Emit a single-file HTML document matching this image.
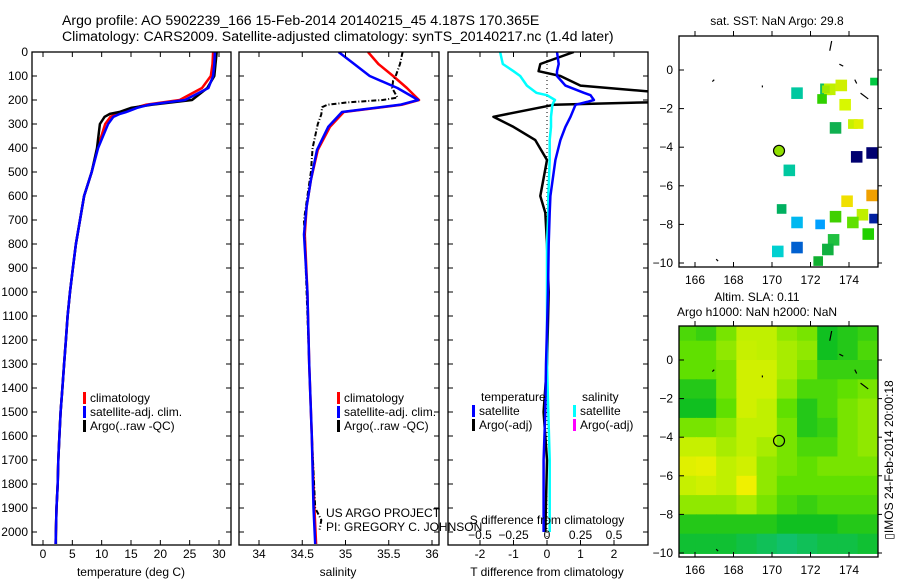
<!DOCTYPE html>
<html><head><meta charset="utf-8">
<style>
html,body{margin:0;padding:0;background:#fff;}
svg{display:block;font-family:"Liberation Sans",sans-serif;}
text{fill:#000;}
</style></head>
<body>
<svg id="fig" width="900" height="580" viewBox="0 0 900 580">
<text x="62" y="25" font-size="14.1" text-anchor="start">Argo profile: AO 5902239_166 15-Feb-2014 20140215_45 4.187S 170.365E</text>
<text x="62" y="41" font-size="14.1" text-anchor="start">Climatology: CARS2009. Satellite-adjusted climatology: synTS_20140217.nc (1.4d later)</text>
<text x="777" y="25" font-size="12" text-anchor="middle">sat. SST: NaN Argo: 29.8</text>
<text x="757" y="301" font-size="12" text-anchor="middle">Altim. SLA: 0.11</text>
<text x="757" y="316" font-size="12" text-anchor="middle">Argo h1000: NaN h2000: NaN</text>
<text transform="translate(893,460) rotate(-90)" font-size="12" text-anchor="middle">▯IMOS 24-Feb-2014 20:00:18</text>
<text x="326" y="517" font-size="12">US ARGO PROJECT</text>
<text x="326" y="531" font-size="12">PI: GREGORY C. JOHNSON</text>
</svg>
<script>
// ---------- data ----------
const depths      = [0,50,100,150,200,220,233,250,258,270,300,400,500,600,700,800,900,1000,1100,1200,1300,1400,1500,1600,1700,1800,1900,2000,2050];
const tempClim    = [29.0,28.9,28.6,27.1,23.3,17.5,15.5,13.6,12.6,11.5,10.6,9.3,8.3,7.0,6.3,5.6,5.1,4.6,4.2,3.9,3.6,3.3,3.0,2.8,2.6,2.5,2.3,2.2,2.15];
const tempSat     = [29.3,29.2,29.0,28.2,24.2,18.0,16.0,14.2,13.1,12.0,11.1,9.4,8.3,7.0,6.3,5.6,5.1,4.6,4.2,3.9,3.6,3.3,3.0,2.8,2.6,2.5,2.3,2.2,2.15];
const tempArgo    = [29.6,29.4,29.2,28.0,25.4,18.5,15.0,13.0,11.4,10.5,9.7,9.2,8.3,7.0,6.3,5.6,5.1,4.6,4.2,3.9,3.6,3.3,3.0,2.8,2.6,2.5,2.3,2.2,2.2];
const salDepths   = [0,50,100,150,200,220,250,312,408,533,645,760,1000,1300,1600,1900,2050];
const salClim     = [35.26,35.38,35.55,35.71,35.85,35.65,34.98,34.82,34.68,34.60,34.55,34.53,34.56,34.58,34.61,34.64,34.66];
const salSat      = [34.92,35.10,35.28,35.60,35.84,35.63,34.96,34.80,34.67,34.60,34.55,34.52,34.56,34.58,34.61,34.63,34.65];
const argoSalDepths=[0,50,100,120,150,170,190,200,210,220,230,260,300,400,500,700,1000,1300,1600,1900,1950,1990];
const salArgo     = [35.66,35.63,35.58,35.55,35.54,35.57,35.60,35.43,35.02,34.79,34.73,34.72,34.68,34.62,34.60,34.52,34.55,34.58,34.61,34.65,34.72,34.70];
const diffDepths  = [0,50,80,100,140,170,180,200,208,220,270,312,367,450,600,670,800,1000,1300,1500,1700,2000];
const tDiffArgo   = [0.8,-0.2,-0.25,0.4,1.0,3.5,3.5,3.5,3.5,0.2,-1.6,-1.0,-0.35,0.0,-0.2,-0.05,0.0,0.05,0.0,-0.1,0.0,-0.05];
const tDiffSat    = [0.3,0.35,0.3,0.3,0.55,1.1,1.3,1.4,1.2,0.85,0.7,0.55,0.4,0.25,0.1,0.08,0.05,0.03,-0.03,-0.05,-0.1,-0.1];
const sDiffSat    = [-0.35,-0.33,-0.25,-0.2,-0.15,-0.08,0.0,0.06,0.05,0.04,0.03,0.03,0.02,0.02,0.01,0.01,0.0,0.0,0.0,0.01,0.02,0.02];
const depthTicks  = [0,100,200,300,400,500,600,700,800,900,1000,1100,1200,1300,1400,1500,1600,1700,1800,1900,2000];
const tempTicks   = [0,5,10,15,20,25,30];
const salTicks    = [34,34.5,35,35.5,36];
const tdTicks     = [-2,-1,0,1,2];
const sdTicks     = [-0.5,-0.25,0,0.25,0.5];
const lonTicks    = [166,168,170,172,174];
const latTicks    = [0,-2,-4,-6,-8,-10];
// SST observation boxes: lon, lat, size(deg), colour
const sstLon  = [171.3,172.8,173.0,173.6,173.8,172.6,172.8,173.3,174.2,174.5,175.3,174.4,175.2,173.3,170.9,175.2,173.9,174.7,170.5,171.3,172.5,174.2,175.3,175.0,170.3,171.3,173.2,172.9,172.4];
const sstLat  = [-1.2,-1.0,-1.0,-0.8,-1.8,-1.5,-1.0,-3.0,-2.8,-2.8,-0.6,-4.5,-4.3,-7.6,-5.2,-6.5,-6.8,-7.5,-7.2,-7.9,-8.0,-7.9,-7.7,-8.5,-9.4,-9.2,-8.8,-9.3,-9.9];
const sstSize = [0.6,0.6,0.6,0.6,0.6,0.5,0.4,0.6,0.5,0.5,0.4,0.6,0.6,0.6,0.6,0.6,0.6,0.6,0.5,0.6,0.5,0.6,0.5,0.6,0.6,0.6,0.6,0.6,0.5];
const sstCol  = ['#00c8a0','#10c060','#c0f000','#d0f000','#d8f800','#30d000','#a0e800','#10b050','#c8f000','#e0f000','#00c840','#000070','#000070','#40d000','#00c8a0','#f0a000','#f0e000','#c0f000','#00b060','#00b8f0','#00a0ff','#60e000','#0020a0','#20d000','#00d0d0','#0060d0','#20c040','#10b040','#10b030'];
// SLA grid rows lat 1.5 .. -9.5, columns lon 165.5 .. 175.0
const slaRows = [
 [0.45,0.40,0.55,0.70,0.70,0.60,0.55,0.30,0.35,0.40],
 [0.50,0.50,0.60,0.72,0.70,0.65,0.60,0.30,0.35,0.45],
 [0.50,0.50,0.55,0.75,0.75,0.65,0.55,0.40,0.40,0.40],
 [0.35,0.35,0.55,0.75,0.75,0.60,0.45,0.45,0.50,0.55],
 [0.30,0.30,0.50,0.75,0.70,0.50,0.35,0.45,0.55,0.60],
 [0.55,0.55,0.60,0.70,0.70,0.55,0.35,0.40,0.55,0.60],
 [0.72,0.72,0.65,0.70,0.65,0.55,0.45,0.45,0.55,0.60],
 [0.80,0.82,0.70,0.75,0.60,0.55,0.50,0.55,0.55,0.55],
 [0.72,0.75,0.70,0.85,0.60,0.50,0.50,0.50,0.50,0.50],
 [0.60,0.60,0.60,0.65,0.55,0.45,0.40,0.45,0.45,0.45],
 [0.35,0.35,0.35,0.35,0.35,0.30,0.30,0.30,0.35,0.35],
 [0.25,0.25,0.25,0.20,0.15,0.10,0.15,0.20,0.20,0.25]];
const floatLon = 170.365, floatLat = -4.187;

// ---------- helpers ----------
const svg=document.getElementById('fig');const NS='http://www.w3.org/2000/svg';
function mk(tag,attrs,parent){const e=document.createElementNS(NS,tag);for(const k in attrs)e.setAttribute(k,attrs[k]);(parent||svg).appendChild(e);return e;}
function lin(d0,d1,r0,r1){return v=>r0+(v-d0)*(r1-r0)/(d1-d0);}
const Y=lin(0,2000,52,532);
function txt(x,y,s,anchor,size,parent){const t=mk('text',{x:x,y:y,'font-size':size||12,'text-anchor':anchor||'middle'},parent);t.textContent=s;return t;}

function panel(name,x0,x1,y0,y1){
  const g=mk('g',{});
  
  
  const id='clip-'+name;const cp=mk('clipPath',{id:id},g);mk('rect',{x:x0,y:y0,width:x1-x0,height:y1-y0},cp);
  const inner=mk('g',{'clip-path':'url(#'+id+')'},g);
  return {g:g,inner:inner,x0:x0,x1:x1,y0:y0,y1:y1};
}
function frame(p){const r=mk('rect',{x:p.x0,y:p.y0,width:p.x1-p.x0,height:p.y1-p.y0,fill:'none',stroke:'#000','stroke-width':1.3},p.g);}
function line(p,xs,ds,X,color,w,name,dash){
  const pts=xs.map((v,i)=>X(v).toFixed(1)+','+Y(ds[i]).toFixed(1)).join(' ');
  const a={points:pts,fill:'none',stroke:color,'stroke-width':w,'stroke-linejoin':'round'};if(dash)a['stroke-dasharray']=dash;
  const e=mk('polyline',a,p.inner);
  
  
}
function depthAxis(p,labels){
  depthTicks.forEach(d=>{const y=Y(d);
    mk('line',{x1:p.x0,x2:p.x0+5,y1:y,y2:y,stroke:'#000'},p.g);
    mk('line',{x1:p.x1,x2:p.x1-5,y1:y,y2:y,stroke:'#000'},p.g);
    if(labels){const t=txt(p.x0-4,y+4,String(d),'end',12,p.g);}
  });
}
function xAxis(p,ticks,X,ly,fmt){
  ticks.forEach(v=>{const x=X(v);
    mk('line',{x1:x,x2:x,y1:p.y1,y2:p.y1-5,stroke:'#000'},p.g);
    mk('line',{x1:x,x2:x,y1:p.y0,y2:p.y0+5,stroke:'#000'},p.g);
    const t=txt(x,ly,fmt?fmt(v):String(v),'middle',12,p.g);});
}
function legend(p,x,y,items){
  items.forEach((it,i)=>{
    const r=mk('rect',{x:x,y:y+i*14-10,width:3,height:12,fill:it[1]},p.g);
    
    
    const t=txt(x+7,y+i*14,it[0],'start',12,p.g);
    
    
  });
}

// ---------- panel 1: temperature ----------
const p1=panel('temperature-panel',32,231,52,545);
const XT=lin(0,30,43,219);
line(p1,tempClim,depths,XT,'#f00',2.5,'temp-climatology-line');
line(p1,tempArgo,depths,XT,'#000',2.5,'temp-argo-line');
line(p1,tempSat,depths,XT,'#00f',2.5,'temp-satellite-line');
frame(p1);depthAxis(p1,true);xAxis(p1,tempTicks,XT,558);
txt(131,576,'temperature (deg C)','middle',12,p1.g);
legend(p1,83,402,[['climatology','#f00'],['satellite-adj. clim.','#00f'],['Argo(..raw -QC)','#000']]);

// ---------- panel 2: salinity ----------
const p2=panel('salinity-panel',239,439,52,545);
const XS=lin(34,36,259,432);
line(p2,salClim,salDepths,XS,'#f00',2.5,'sal-climatology-line');
line(p2,salArgo,argoSalDepths,XS,'#000',2,'sal-argo-line','5 2 1 2');
line(p2,salSat,salDepths,XS,'#00f',2.5,'sal-satellite-line');
frame(p2);depthAxis(p2,false);xAxis(p2,salTicks,XS,558);
txt(338,576,'salinity','middle',12,p2.g);
legend(p2,337,402,[['climatology','#f00'],['satellite-adj. clim.','#00f'],['Argo(..raw -QC)','#000']]);

// ---------- panel 3: differences ----------
const p3=panel('difference-panel',448,648,52,545);
const XTD=lin(-2,2,480,614);
const XSD=lin(-0.5,0.5,480,614);
mk('line',{x1:XTD(0),x2:XTD(0),y1:52,y2:545,stroke:'#000','stroke-width':1,'stroke-dasharray':'1 3'},p3.inner);
line(p3,tDiffArgo,diffDepths,XTD,'#000',2.5,'tdiff-argo-line');
line(p3,sDiffSat,diffDepths,XSD,'#0ff',2.5,'sdiff-satellite-line');
line(p3,tDiffSat,diffDepths,XTD,'#00f',2.5,'tdiff-satellite-line');
frame(p3);depthAxis(p3,false);xAxis(p3,tdTicks,XTD,558);
sdTicks.forEach(v=>{const t=txt(XSD(v),539,String(v).replace('-','\u2212'),'middle',12,p3.g);});
txt(547,524,'S difference from climatology','middle',12,p3.g);
txt(547,576,'T difference from climatology','middle',12,p3.g);
txt(481,401,'temperature','start',12,p3.g);
txt(582,401,'salinity','start',12,p3.g);
legend(p3,472,415,[['satellite','#00f'],['Argo(-adj)','#000']]);
legend(p3,573,415,[['satellite','#0ff'],['Argo(-adj)','#f0f']]);

// ---------- maps ----------
const LX=lin(166,174,695,849);
function mapPanel(name,top){
  const LY=lin(0,-10,top+34,top+227);
  const p=panel(name,679,878,top,top+231);
  return {p:p,LY:LY};
}
function mapAxes(m){
  const p=m.p;frame(p);
  lonTicks.forEach(v=>{const x=LX(v);mk('line',{x1:x,x2:x,y1:p.y1,y2:p.y1-5,stroke:'#000'},p.g);mk('line',{x1:x,x2:x,y1:p.y0,y2:p.y0-5,stroke:'#000'},p.g);
    const t=txt(x,p.y1+17,String(v),'middle',12,p.g);});
  latTicks.forEach(v=>{const y=m.LY(v);mk('line',{x1:p.x0,x2:p.x0+5,y1:y,y2:y,stroke:'#000'},p.g);mk('line',{x1:p.x1,x2:p.x1+4,y1:y,y2:y,stroke:'#000'},p.g);
    const t=txt(p.x0-6,y+4,String(v).replace('-','\u2212'),'end',12,p.g);});
}
function coast(m){
  [[173.1,1.5,173.0,1.0],[173.5,0.3,173.7,0.2],[174.3,-0.5,174.4,-0.7],[174.6,-1.2,175.0,-1.5],[167.0,-0.5,166.9,-0.6],[169.5,-0.8,169.5,-0.9],[167.1,-9.8,167.2,-9.9]].forEach(c=>{
    mk('line',{x1:LX(c[0]),y1:m.LY(c[1]),x2:LX(c[2]),y2:m.LY(c[3]),stroke:'#000','stroke-width':1.2},m.p.inner);});
}
const m1=mapPanel('sst-map',36);
sstLon.forEach((lon,i)=>{const s=sstSize[i];
  const r=mk('rect',{x:LX(lon-s/2),y:m1.LY(sstLat[i]+s/2),width:LX(s)-LX(0),height:m1.LY(-s)-m1.LY(0),fill:sstCol[i]},m1.p.inner);
  
  
});
coast(m1);
const f1=mk('circle',{cx:LX(floatLon),cy:m1.LY(floatLat),r:5.5,fill:'#90e000',stroke:'#000','stroke-width':1.2},m1.p.inner);


mapAxes(m1);

function slaColor(v){
  const stops=[[0,[16,192,144]],[0.3,[16,192,32]],[0.5,[96,224,0]],[0.7,[192,240,0]],[0.85,[240,240,0]],[1,[240,200,0]]];
  for(let i=1;i<stops.length;i++){if(v<=stops[i][0]){const a=stops[i-1],b=stops[i],t=(v-a[0])/(b[0]-a[0]);
    return 'rgb('+a[1].map((c,k)=>Math.round(c+(b[1][k]-c)*t)).join(',')+')';}}
  return 'rgb(240,200,0)';
}
const m2=mapPanel('sla-map',326);
slaRows.forEach((row,ri)=>row.forEach((v,ci)=>{
  const lon0=165+ci*1.05,lat0=2-ri;
  const r=mk('rect',{x:LX(lon0),y:m2.LY(lat0),width:LX(1.1)-LX(0),height:m2.LY(-1.05)-m2.LY(0),fill:slaColor(v)},m2.p.inner);
  
  
}));
coast(m2);
const f2=mk('circle',{cx:LX(floatLon),cy:m2.LY(floatLat),r:5.5,fill:'none',stroke:'#000','stroke-width':1.2},m2.p.inner);


mapAxes(m2);
</script>
</body></html>
